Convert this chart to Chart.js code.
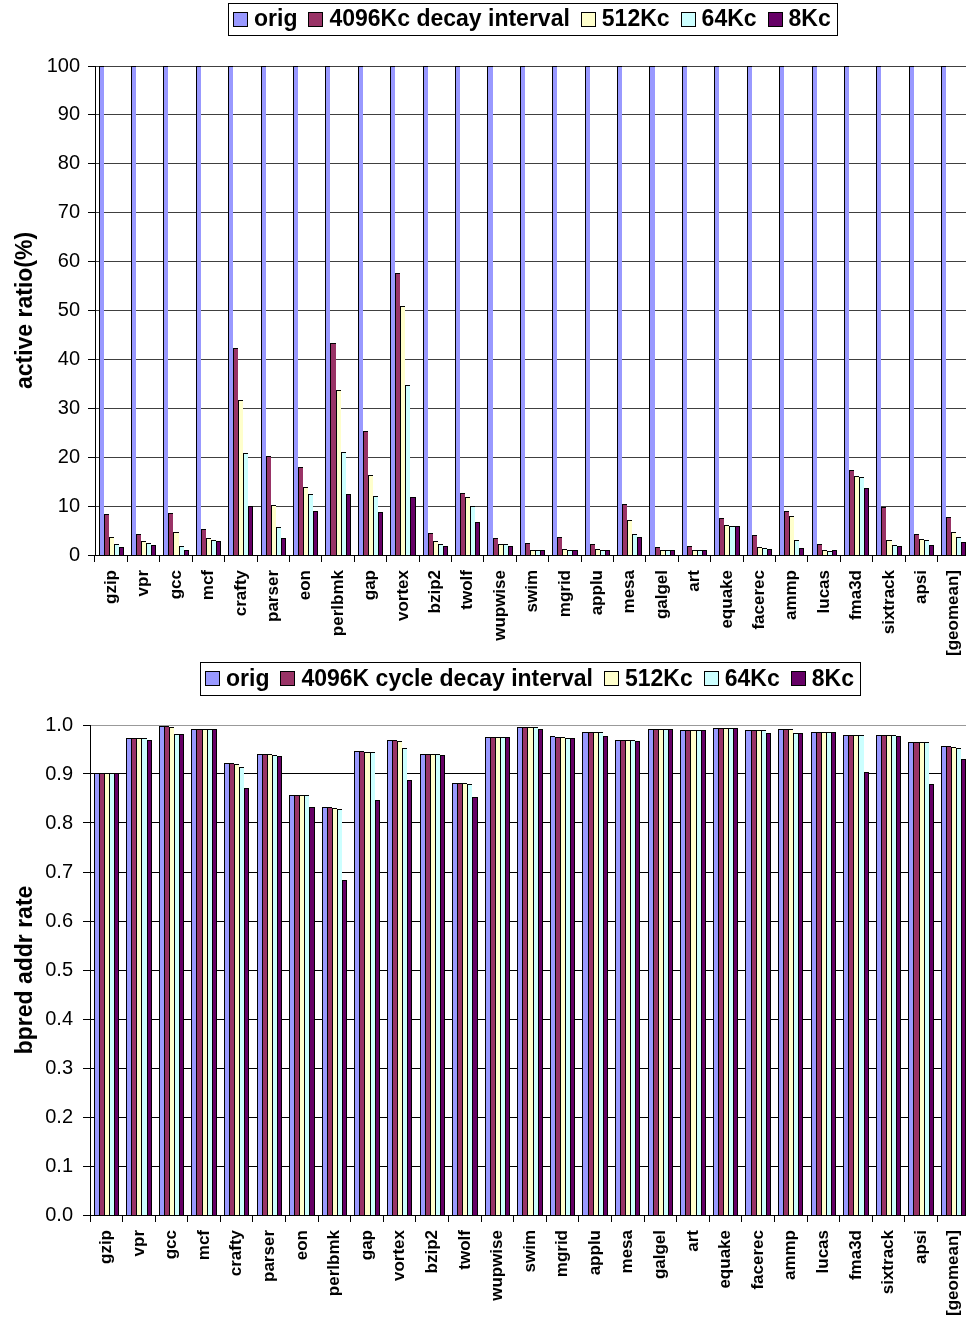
<!DOCTYPE html>
<html>
<head>
<meta charset="utf-8">
<script src="https://cdn.jsdelivr.net/npm/chart.js@4.4.1/dist/chart.umd.min.js"></script>
<style>
  html, body { margin: 0; padding: 0; width: 966px; height: 1317px; overflow: hidden; background: #fff; }
  canvas { position: absolute; left: 0; }
  #c1 { top: 0; }
  #c2 { top: 660px; }
</style>
</head>
<body>
<canvas id="c1" width="975" height="660"></canvas>
<canvas id="c2" width="975" height="657"></canvas>
<script>
const categories = ['gzip','vpr','gcc','mcf','crafty','parser','eon','perlbmk','gap','vortex','bzip2','twolf','wupwise','swim','mgrid','applu','mesa','galgel','art','equake','facerec','ammp','lucas','fma3d','sixtrack','apsi','[geomean]'];

const seriesNamesTop = ['orig', '4096Kc decay interval', '512Kc', '64Kc', '8Kc'];
const seriesNamesBottom = ['orig', '4096K cycle decay interval', '512Kc', '64Kc', '8Kc'];
const seriesColors = ['#9999FF', '#993366', '#FFFFCC', '#CCFFFF', '#660066'];

// Top chart: active ratio (%)
const activeOrig = [100,100,100,100,100,100,100,100,100,100,100,100,100,100,100,100,100,100,100,100,100,100,100,100,100,100,100];
const active4096 = [8.4,4.2,8.6,5.3,42.3,20.2,17.9,43.3,25.4,57.7,4.6,12.6,3.5,2.5,3.7,2.2,10.4,1.6,1.8,7.5,4.0,9.0,2.2,17.4,9.9,4.3,7.7];
const active512  = [3.7,2.8,4.8,3.5,31.6,10.2,14.0,33.7,16.4,50.9,2.9,11.9,2.3,1.1,1.3,1.2,7.2,1.0,1.0,6.1,1.7,8.0,1.0,16.1,3.0,3.3,4.7];
const active64   = [2.2,2.5,1.9,3.1,20.8,5.8,12.4,21.1,12.1,34.7,2.2,10.0,2.2,1.0,1.0,1.0,4.3,1.0,1.0,5.9,1.5,3.0,0.9,16.0,2.1,3.0,3.6];
const active8    = [1.6,2.0,1.0,2.8,10.0,3.5,9.0,12.5,8.8,11.8,1.8,6.7,1.8,1.0,1.0,1.0,3.7,1.0,1.0,5.9,1.2,1.4,1.0,13.6,1.8,2.1,2.7];

// Bottom chart: bpred addr rate
const bpredOrig = [0.903,0.974,0.997,0.992,0.922,0.941,0.857,0.833,0.946,0.970,0.940,0.882,0.975,0.995,0.977,0.986,0.970,0.992,0.990,0.993,0.990,0.992,0.986,0.979,0.979,0.965,0.958];
const bpred4096 = [0.903,0.974,0.997,0.992,0.922,0.941,0.857,0.833,0.946,0.970,0.940,0.882,0.975,0.995,0.976,0.986,0.969,0.992,0.990,0.993,0.990,0.992,0.986,0.979,0.979,0.965,0.958];
const bpred512  = [0.903,0.974,0.995,0.992,0.921,0.941,0.857,0.831,0.945,0.968,0.940,0.882,0.975,0.995,0.976,0.986,0.969,0.992,0.990,0.993,0.990,0.992,0.986,0.979,0.979,0.965,0.956];
const bpred64   = [0.903,0.974,0.982,0.992,0.914,0.939,0.857,0.829,0.944,0.954,0.940,0.879,0.975,0.995,0.974,0.986,0.969,0.992,0.990,0.993,0.990,0.984,0.986,0.979,0.979,0.965,0.954];
const bpred8    = [0.903,0.969,0.982,0.991,0.872,0.936,0.833,0.683,0.846,0.888,0.939,0.853,0.975,0.992,0.973,0.977,0.968,0.992,0.990,0.993,0.983,0.984,0.986,0.904,0.977,0.879,0.930];

const FONT = '"Liberation Sans", Arial, Helvetica, sans-serif';

// Snap bar edges (computed by the library's scales) to whole pixels for crisp outlines
const snapBars = {
  id: 'snapBars',
  afterDatasetsUpdate(chart) {
    chart.data.datasets.forEach((d, i) => {
      chart.getDatasetMeta(i).data.forEach(el => {
        const l = Math.round(el.x - el.width / 2);
        const r = Math.round(el.x + el.width / 2);
        el.width = r - l;
        el.x = l + el.width / 2;
        el.y = Math.round(el.y);
        el.base = Math.round(el.base);
      });
    });
  }
};

const boxLegend = {
  id: 'boxLegend',
  afterDraw(chart, args, opts) {
    const ctx = chart.ctx;
    ctx.save();
    ctx.font = 'bold ' + opts.size + 'px ' + FONT;
    const box = 15, gap = 6, spacing = 11, padL = 5, padR = 6;
    const items = chart.data.datasets.map(d => ({ text: d.label, fill: d.backgroundColor, w: ctx.measureText(d.label).width }));
    const total = padL + padR + items.reduce((s, it) => s + box + gap + it.w, 0) + spacing * (items.length - 1);
    const ca = chart.chartArea;
    const cx = (ca.left + ca.right) / 2;
    const x0 = Math.round(cx - total / 2);
    const top = opts.top, h = opts.height;
    ctx.fillStyle = '#fff';
    ctx.fillRect(x0, top, total, h);
    ctx.strokeStyle = '#000';
    ctx.lineWidth = 1;
    ctx.strokeRect(x0 + 0.5, top + 0.5, Math.round(total), h);
    const cy = top + h / 2;
    let xx = x0 + padL;
    items.forEach(it => {
      const by = Math.round(cy - box / 2);
      ctx.fillStyle = it.fill;
      ctx.fillRect(Math.round(xx), by, box, box);
      ctx.strokeStyle = '#000';
      ctx.strokeRect(Math.round(xx) + 0.5, by + 0.5, box - 1, box - 1);
      ctx.fillStyle = '#000';
      ctx.textBaseline = 'middle';
      ctx.textAlign = 'left';
      ctx.fillText(it.text, xx + box + gap, cy + 1);
      xx += box + gap + it.w + spacing;
    });
    ctx.restore();
  }
};

function buildDatasets(names, arrays) {
  return names.map((n, i) => ({
    label: n,
    data: arrays[i],
    backgroundColor: seriesColors[i],
    borderColor: '#000',
    borderWidth: { top: 1, left: 1, right: i === names.length - 1 ? 1 : 0, bottom: 0 },
    borderSkipped: false,
    categoryPercentage: 0.78,
    barPercentage: 1.0
  }));
}

function makeChart(id, cfg) {
  const canvas = document.getElementById(id);
  const H = canvas.height;
  return new Chart(canvas, {
    type: 'bar',
    data: { labels: categories, datasets: buildDatasets(cfg.names, cfg.arrays) },
    plugins: [snapBars, boxLegend],
    options: {
      responsive: false,
      animation: false,
      devicePixelRatio: 1,
      layout: { padding: { top: cfg.areaTop, right: 5, left: 0, bottom: 0 } },
      plugins: {
        legend: { display: false },
        tooltip: { enabled: false },
        boxLegend: { top: cfg.legendTop, height: cfg.legendHeight, size: 23 }
      },
      scales: {
        x: {
          grid: { display: true, drawOnChartArea: false, drawTicks: true, tickLength: 7, offset: true, color: '#000', tickColor: '#000' },
          border: { display: true, color: '#000', width: 1 },
          ticks: { autoSkip: false, minRotation: 90, maxRotation: 90, padding: 8, color: '#000', font: { family: FONT, size: 17, weight: 'bold' } },
          afterFit: s => { s.height = H - cfg.areaBottom; s.paddingLeft = 0; s.paddingRight = 0; }
        },
        y: {
          min: cfg.min, max: cfg.max,
          grid: { color: cfg.gridColor, tickColor: '#000', tickLength: 7, lineWidth: 1 },
          border: { display: true, color: '#000', width: 1 },
          ticks: { stepSize: cfg.step, padding: cfg.tickPad, color: '#000', font: { family: FONT, size: 20 }, callback: cfg.fmt },
          title: { display: true, text: cfg.title, color: '#000', font: { family: FONT, size: 23, weight: 'bold' }, padding: { top: 12, bottom: 0 } },
          afterFit: s => { s.width = cfg.axisX; s.paddingTop = 0; s.paddingBottom = 0; }
        }
      }
    }
  });
}

makeChart('c1', {
  names: seriesNamesTop,
  arrays: [activeOrig, active4096, active512, active64, active8],
  areaTop: 66, areaBottom: 555, axisX: 95,
  legendTop: 3, legendHeight: 32,
  min: 0, max: 100, step: 10, tickPad: 8,
  fmt: v => String(Math.round(v)),
  gridColor: '#404040',
  title: 'active ratio(%)'
});

makeChart('c2', {
  names: seriesNamesBottom,
  arrays: [bpredOrig, bpred4096, bpred512, bpred64, bpred8],
  areaTop: 65, areaBottom: 555, axisX: 90,
  legendTop: 2, legendHeight: 33,
  min: 0, max: 1, step: 0.1, tickPad: 10,
  fmt: v => Number(v).toFixed(1),
  gridColor: ctx => (ctx.tick && Math.abs(ctx.tick.value - 1) < 1e-6) ? '#999999' : '#000000',
  title: 'bpred addr rate'
});
</script>
</body>
</html>
